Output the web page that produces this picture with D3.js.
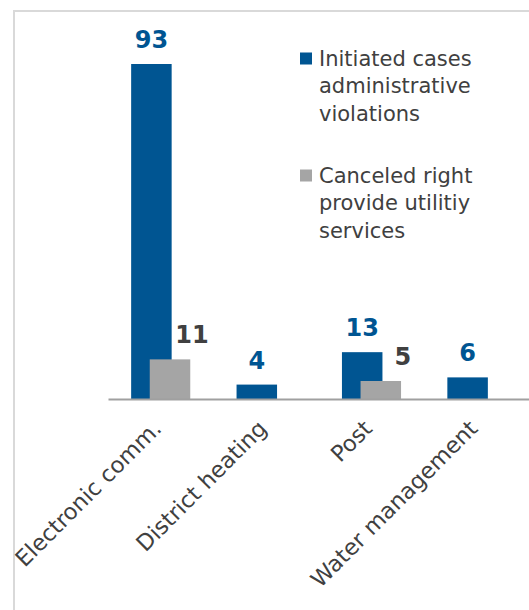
<!DOCTYPE html>
<html>
<head>
<meta charset="utf-8">
<script src="https://cdn.jsdelivr.net/npm/d3@7"></script>
<style>
  html, body { margin: 0; padding: 0; background: #ffffff; }
  svg { display: block; }
</style>
</head>
<body>
<svg id="chart" width="529" height="610"></svg>
<script>
// Sectors and the two counted measures per sector
const categories = ["Electronic comm.", "District heating", "Post", "Water management"];
const initiatedCases = [93, 4, 13, 6];
const canceledRights = [11, null, 5, null];
const seriesNames = [
  ["Initiated cases", "administrative", "violations"],
  ["Canceled right", "provide utilitiy", "services"]
];
const seriesColors = ["#005592", "#a5a5a5"];
const labelColors = ["#005592", "#404040"];

const svg = d3.select("#chart");
const font = "'DejaVu Sans', Verdana, sans-serif";

// Outer frame (top and left edges visible)
svg.append("path")
  .attr("d", "M14,610 L14,11 L529,11")
  .attr("fill", "none")
  .attr("stroke", "#d9d9d9")
  .attr("stroke-width", 2);

const baseY = 399;
const x = d3.scaleBand().domain(categories).range([108, 529.6]).paddingInner(0).paddingOuter(0);
const y = d3.scaleLinear().domain([0, 93]).range([baseY, 64]);
// Overlapping series inside each category
const seriesOffset = d3.scalePoint().domain([0, 1]).range([-9.3, 9.3]);
const barWidth = 40.5;

const series = [initiatedCases, canceledRights];

series.forEach((vals, si) => {
  const data = categories.map((c, i) => ({ c, v: vals[i] })).filter(d => d.v != null);
  const g = svg.append("g");
  g.selectAll("rect").data(data).join("rect")
    .attr("x", d => x(d.c) + x.bandwidth() / 2 + seriesOffset(si) - barWidth / 2)
    .attr("y", d => y(d.v))
    .attr("width", barWidth)
    .attr("height", d => baseY - y(d.v))
    .attr("fill", seriesColors[si]);
});

// Value labels
series.forEach((vals, si) => {
  const data = categories.map((c, i) => ({ c, v: vals[i] })).filter(d => d.v != null);
  const dx = si === 1 ? 22 : 0;
  svg.append("g").selectAll("text").data(data).join("text")
    .attr("x", d => x(d.c) + x.bandwidth() / 2 + seriesOffset(si) + dx)
    .attr("y", d => y(d.v) - 16)
    .attr("text-anchor", "middle")
    .attr("font-family", font)
    .attr("font-weight", "bold")
    .attr("font-size", 24)
    .attr("fill", labelColors[si])
    .text(d => d.v);
});

// Category axis
const axis = svg.append("g").attr("transform", `translate(0,${baseY})`)
  .call(d3.axisBottom(x).tickSize(0).tickSizeOuter(0));
axis.select(".domain").attr("stroke", "#a0a0a0").attr("stroke-width", 2);
axis.selectAll(".tick text")
  .attr("font-family", font)
  .attr("font-size", 22.5)
  .attr("fill", "#404040")
  .attr("text-anchor", "end")
  .attr("dy", 0)
  .attr("y", 0)
  .attr("transform", "translate(2,31) rotate(-45)");

// Legend
const legend = svg.append("g");
const legendY = [65.5, 182.5];
seriesNames.forEach((lines, si) => {
  legend.append("rect")
    .attr("x", 300).attr("y", legendY[si] - 13)
    .attr("width", 12).attr("height", 12)
    .attr("fill", seriesColors[si]);
  const t = legend.append("text")
    .attr("x", 319).attr("y", legendY[si])
    .attr("font-family", font)
    .attr("font-size", 21)
    .attr("fill", "#404040");
  lines.forEach((ln, li) => {
    t.append("tspan").attr("x", 319).attr("y", legendY[si] + li * 27.5).text(ln);
  });
});
</script>
</body>
</html>
